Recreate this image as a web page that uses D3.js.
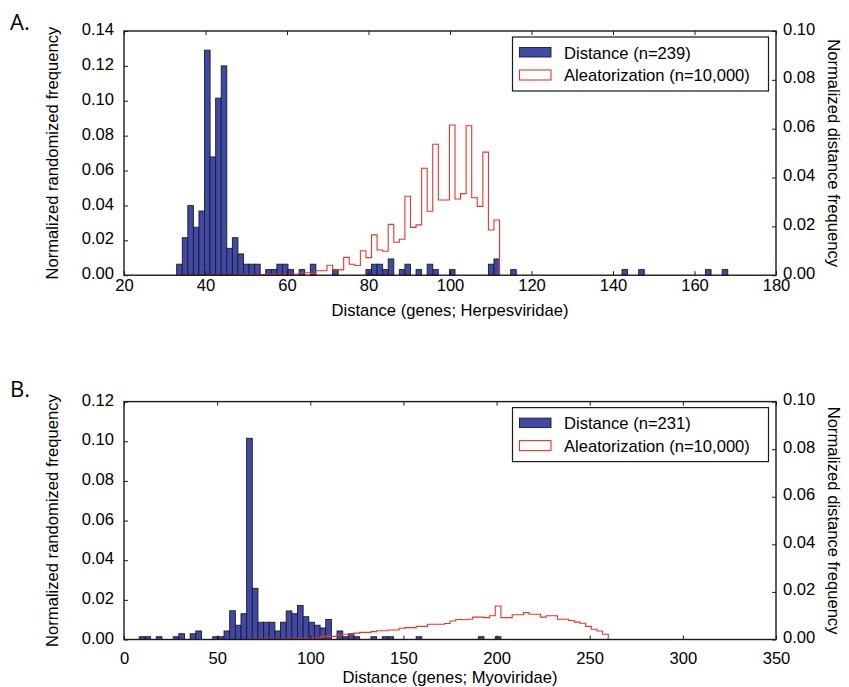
<!DOCTYPE html>
<html><head><meta charset="utf-8">
<script src="https://cdn.jsdelivr.net/npm/d3@7"></script>
<style>body{margin:0;background:#fff}svg{display:block}</style>
</head><body><svg id="c" width="849" height="687"></svg>
<script>
// ---------- DATA ----------
// Panel A (Herpesviridae)
const binStartA = 32.93, binWidthA = 1.366;
const distanceA = [0.0063,0.0215,0.0399,0.0275,0.0368,0.129,0.0678,0.1015,0.120,0.0154,
  0.0215,0.0122,0.0063,0.0063,0.0063,0,0.0032,0.0032,0.0063,0.0063,
  0.0032,0,0.0032,0,0.0063,0,0,0,0.0032,0,
  0,0,0,0,0.0032,0.0063,0.0063,0.0032,0.0093,0,
  0.0032,0.0063,0,0.0032,0,0.0063,0.0032,0,0,0.0032,
  0,0,0,0,0,0,0.0063,0.0093,0,0,
  0.0032,0,0,0,0,0,0,0,0,0,
  0,0,0,0,0,0,0,0,0,0,
  0.0032,0,0,0.0032,0,0,0,0,0,0,
  0,0,0,0,0,0.0032,0,0,0.0032];
const aleatA = [0,0,0,0,0,0,0,0,0,0,
  0,0.0002,0.0003,0.0003,0.0003,0.0003,0.0003,0.0004,0.0004,0.0004,
  0.0004,0.0004,0.0010,0.0010,0.0007,0.0018,0.0018,0.0041,0.0022,0.0022,
  0.0073,0.0045,0.0040,0.0100,0.0072,0.0165,0.0103,0.0098,0.0208,0.0135,
  0.0147,0.0323,0.0196,0.0206,0.0438,0.0262,0.0536,0.0308,0.0308,0.0615,
  0.0312,0.0334,0.0612,0.0317,0.0282,0.0504,0.0185,0.0226];
const xTicksA = [20,40,60,80,100,120,140,160,180];
const yLeftTicksA = [0,0.02,0.04,0.06,0.08,0.10,0.12,0.14];
const legendA = ["Distance (n=239)","Aleatorization (n=10,000)"];
const xTitleA = "Distance (genes; Herpesviridae)";

// Panel B (Myoviridae)
const binStartB = 8.21, binWidthB = 3.033;
const distanceB = [0.0014,0.0014,0,0.0014,0,0,0.0014,0.0029,0,0.0029,
  0.0043,0,0,0.0014,0.0014,0.0043,0.0145,0.0072,0.0130,0.1015,
  0.0258,0.0087,0.0087,0.0087,0.0043,0.0087,0.0144,0.0130,0.0172,0.0115,
  0.0087,0.0072,0.0058,0.0101,0,0.0043,0.0014,0.0029,0.0014,0,
  0,0.0014,0,0.0014,0.0014,0,0,0,0,0.0014,
  0,0,0,0,0,0,0,0,0,0,
  0.0014,0,0,0.0014];
const aleatB = [0,0,0,0,0,0,0,0,0,0,
  0,0,0,0,0,0,0,0,0,0,
  0.0002,0.0002,0.0002,0.0002,0.0002,0.0002,0.0002,0.0002,0.0005,0.0005,
  0.0005,0.0005,0.0012,0.0013,0.0013,0.0019,0.0022,0.0022,0.0027,0.0030,
  0.0030,0.0033,0.0037,0.0037,0.0040,0.0040,0.0047,0.0050,0.0050,0.0055,
  0.0055,0.0064,0.0064,0.0064,0.0067,0.0078,0.0084,0.0083,0.0085,0.0094,
  0.0094,0.0092,0.0100,0.0141,0.0092,0.0092,0.0104,0.0104,0.0113,0.0106,
  0.0106,0.0094,0.0100,0.0100,0.0085,0.0085,0.0080,0.0073,0.0068,0.0055,
  0.0043,0.0036,0.0022];
const xTicksB = [0,50,100,150,200,250,300,350];
const yLeftTicksB = [0,0.02,0.04,0.06,0.08,0.10,0.12];
const legendB = ["Distance (n=231)","Aleatorization (n=10,000)"];
const xTitleB = "Distance (genes; Myoviridae)";

const yRightTicks = [0,0.02,0.04,0.06,0.08,0.10];
const yLeftTitle = "Normalized randomized frequency";
const yRightTitle = "Normalized distance frequency";

// ---------- STYLE ----------
const FONT = "'Liberation Sans', Arial, Helvetica, sans-serif";
const FS = 16.6;
const BLUE = "#4049a8", EDGE = "#1c1c1c", RED = "#e8352b", AX = "#1a1a1a";
const svg = d3.select("#c");

function panel(o) {
  const L = 124, R = 776;
  const x = d3.scaleLinear().domain(o.xDomain).range([L, R]);
  const yL = d3.scaleLinear().domain([0, o.yMax]).range([o.bottom, o.top]);
  const yR = d3.scaleLinear().domain([0, 0.10]).range([o.bottom, o.top]);
  const g = svg.append("g");
  const edge = i => x(o.start + i * o.width);

  // blue bars
  g.append("g").selectAll("rect")
    .data(o.dist.map((v, i) => ({v, i})).filter(d => d.v > 0))
    .join("rect")
    .attr("x", d => edge(d.i))
    .attr("width", d => edge(d.i + 1) - edge(d.i))
    .attr("y", d => yL(d.v))
    .attr("height", d => yL(0) - yL(d.v))
    .attr("fill", BLUE).attr("stroke", EDGE).attr("stroke-width", 0.9);

  // red step outline
  const pts = [[edge(0), yR(0)]];
  o.aleat.forEach((v, i) => { pts.push([edge(i), yR(v)]); pts.push([edge(i + 1), yR(v)]); });
  pts.push([edge(o.aleat.length), yR(0)]);
  g.append("path").attr("d", d3.line()(pts))
    .attr("fill", "none").attr("stroke", RED).attr("stroke-width", 1.1);

  // axes (ticks inward)
  const styleAxis = sel => {
    sel.select(".domain").remove();
    sel.selectAll(".tick line").attr("stroke", AX).attr("stroke-width", 1);
    sel.selectAll("text").attr("font-family", FONT).attr("font-size", FS).attr("fill", "#000");
  };
  g.append("g").attr("transform", `translate(0,${o.bottom})`)
    .call(d3.axisBottom(x).tickValues(o.xTicks).tickFormat(d3.format("d"))
      .tickSizeInner(-4).tickSizeOuter(0).tickPadding(o.xPad)).call(styleAxis);
  g.append("g").attr("transform", `translate(0,${o.top})`)
    .call(d3.axisTop(x).tickValues(o.xTicks).tickFormat("")
      .tickSizeInner(-4).tickSizeOuter(0)).call(styleAxis);
  g.append("g").attr("transform", `translate(${L},0)`)
    .call(d3.axisLeft(yL).tickValues(o.yTicks).tickFormat(d3.format(".2f"))
      .tickSizeInner(-4).tickSizeOuter(0).tickPadding(10)).call(styleAxis)
    .selectAll("text").attr("dy", "0.22em");
  g.append("g").attr("transform", `translate(${R},0)`)
    .call(d3.axisRight(yR).tickValues(yRightTicks).tickFormat(d3.format(".2f"))
      .tickSizeInner(-4).tickSizeOuter(0).tickPadding(7)).call(styleAxis)
    .selectAll("text").attr("dy", "0.18em");

  // frame
  g.append("rect").attr("x", L).attr("y", o.top).attr("width", R - L).attr("height", o.bottom - o.top)
    .attr("fill", "none").attr("stroke", AX).attr("stroke-width", 1.4);

  // legend
  const lg = g.append("g").attr("transform", `translate(512.5,${o.top + 6})`);
  lg.append("rect").attr("width", 256).attr("height", 54)
    .attr("fill", "#fff").attr("stroke", AX).attr("stroke-width", 1.2);
  lg.append("rect").attr("x", 7).attr("y", 10.5).attr("width", 31.5).attr("height", 9.5)
    .attr("fill", BLUE).attr("stroke", EDGE).attr("stroke-width", 0.9);
  lg.append("rect").attr("x", 7).attr("y", 33).attr("width", 31.5).attr("height", 10)
    .attr("fill", "#fff").attr("stroke", RED).attr("stroke-width", 1.1);
  lg.selectAll("text.l").data(o.legend).join("text")
    .attr("x", 51.5).attr("y", (d, i) => 21.5 + i * 22.5)
    .attr("font-family", FONT).attr("font-size", FS).text(d => d);

  // titles
  g.append("text").attr("x", (L + R) / 2).attr("y", o.xTitleY).attr("text-anchor", "middle")
    .attr("font-family", FONT).attr("font-size", FS).text(o.xTitle);
  g.append("text").attr("transform", `translate(58,${(o.top + o.bottom) / 2}) rotate(-90)`)
    .attr("text-anchor", "middle").attr("font-family", FONT).attr("font-size", FS).text(yLeftTitle);
  g.append("text").attr("transform", `translate(828,${(o.top + o.bottom) / 2}) rotate(90)`)
    .attr("text-anchor", "middle").attr("font-family", FONT).attr("font-size", FS).text(yRightTitle);
  g.append("text").attr("x", 10).attr("y", o.labelY)
    .attr("font-family", "'Open Sans', 'Noto Sans', sans-serif").attr("font-size", 22).text(o.label);
}

panel({xDomain: [20, 180], yMax: 0.14, top: 31, bottom: 275.2, start: binStartA, width: binWidthA,
  dist: distanceA, aleat: aleatA, xTicks: xTicksA, yTicks: yLeftTicksA, legend: legendA,
  xTitle: xTitleA, xTitleY: 316, xPad: 4.5, label: "A.", labelY: 30});
panel({xDomain: [0, 350], yMax: 0.12, top: 401.6, bottom: 639.5, start: binStartB, width: binWidthB,
  dist: distanceB, aleat: aleatB, xTicks: xTicksB, yTicks: yLeftTicksB, legend: legendB,
  xTitle: xTitleB, xTitleY: 683, xPad: 13, label: "B.", labelY: 397});
</script></body></html>
